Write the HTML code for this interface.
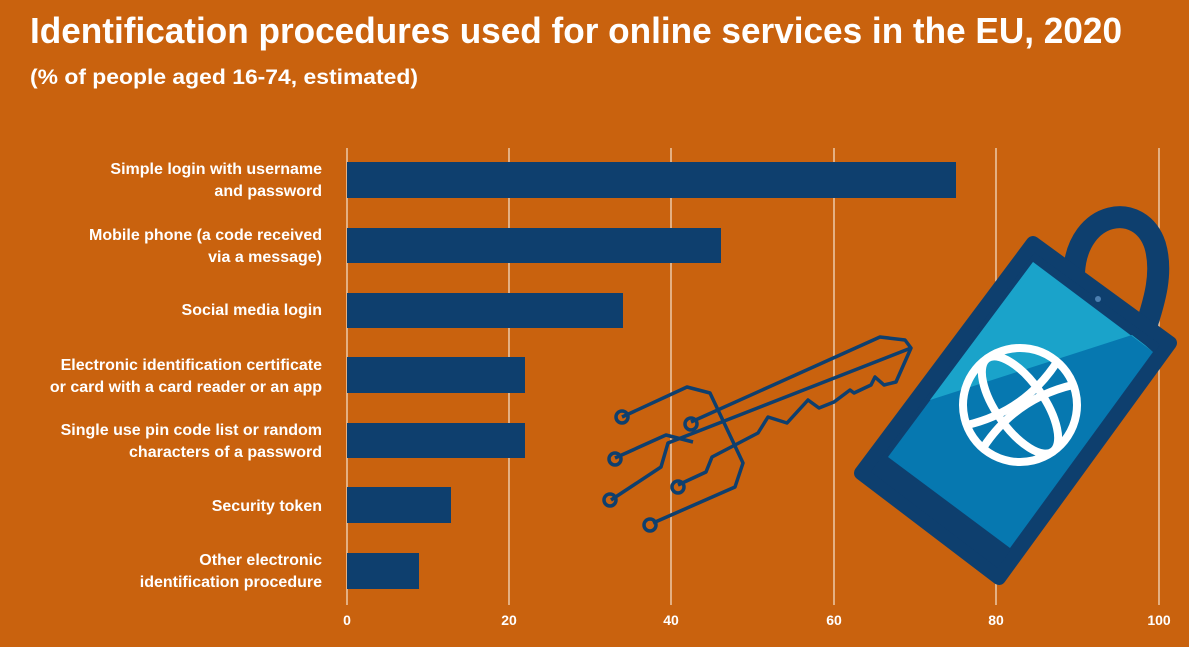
<!DOCTYPE html>
<html><head><meta charset="utf-8"><style>
html,body{margin:0;padding:0;background:#C9620E;}
svg{display:block;font-family:"Liberation Sans",sans-serif;font-weight:bold;}
</style></head><body>
<svg width="1189" height="647" viewBox="0 0 1189 647" xmlns="http://www.w3.org/2000/svg">
<rect width="1189" height="647" fill="#C9620E"/>
<text x="30" y="43" font-size="36" fill="#fff" textLength="1092" lengthAdjust="spacingAndGlyphs">Identification procedures used for online services in the EU, 2020</text>
<text x="30" y="84" font-size="21" fill="#fff" textLength="388" lengthAdjust="spacingAndGlyphs">(% of people aged 16-74, estimated)</text>
<g stroke="#F3D9C0" stroke-width="1.3">
<line x1="347" y1="148" x2="347" y2="605"/><line x1="509" y1="148" x2="509" y2="605"/>
<line x1="671" y1="148" x2="671" y2="605"/><line x1="834" y1="148" x2="834" y2="605"/>
<line x1="996" y1="148" x2="996" y2="605"/><line x1="1159" y1="148" x2="1159" y2="605"/>
</g>
<g fill="#0E3F6E">
<rect x="347" y="162" width="609" height="36"/>
<rect x="347" y="228" width="374" height="35"/>
<rect x="347" y="293" width="276" height="35"/>
<rect x="347" y="357" width="178" height="36"/>
<rect x="347" y="423" width="178" height="35"/>
<rect x="347" y="487" width="104" height="36"/>
<rect x="347" y="553" width="72" height="36"/>
</g>
<g fill="#fff" font-size="16" text-anchor="end">
<text x="322" y="174">Simple login with username</text><text x="322" y="196">and password</text>
<text x="322" y="240">Mobile phone (a code received</text><text x="322" y="262">via a message)</text>
<text x="322" y="315">Social media login</text>
<text x="322" y="370">Electronic identification certificate</text><text x="322" y="392">or card with a card reader or an app</text>
<text x="322" y="435">Single use pin code list or random</text><text x="322" y="457">characters of a password</text>
<text x="322" y="511">Security token</text>
<text x="322" y="565">Other electronic</text><text x="322" y="587">identification procedure</text>
</g>
<g fill="#fff" font-size="14" text-anchor="middle">
<text x="347" y="625">0</text><text x="509" y="625">20</text><text x="671" y="625">40</text>
<text x="834" y="625">60</text><text x="996" y="625">80</text><text x="1159" y="625">100</text>
</g>
<!-- key -->
<g fill="none" stroke="#0E3F6E" stroke-width="3.5" stroke-linejoin="round">
<polyline points="691,422 880,337 905,340 911,348 896,382 884,385 875,377 871,385 854,393 850,390 834,402 819,408 808,400 787,423 768,417 758,433 712,457 706,472 678,485"/>
<polyline points="911,348 668,443 661,467 611,500"/>
<polyline points="622,417 687,387 710,393 743,463 735,487 653,523"/>
<polyline points="615,458 666,435 693,442"/>
<circle cx="622" cy="417" r="6"/><circle cx="691" cy="424" r="6"/>
<circle cx="615" cy="459" r="6"/><circle cx="678" cy="487" r="6"/>
<circle cx="610" cy="500" r="6"/><circle cx="650" cy="525" r="6"/>
</g>
<!-- lock -->
<path d="M1074,272 C1078,210 1140,200 1155,245 C1163,272 1155,300 1145,330" fill="none" stroke="#0E3F6E" stroke-width="22"/>
<polygon points="1033,243 1170,343 999,578 861,473" fill="#0E3F6E" stroke="#0E3F6E" stroke-width="14" stroke-linejoin="round"/>
<polygon points="1033,262 1153,352 1010,548 888,457" fill="#0678B0"/>
<polygon points="1033,262 1153,352 1145,345 1132,335 930,400" fill="#1AA3CA"/>
<circle cx="1098" cy="299" r="3" fill="#4c7fb0"/>
<g transform="translate(1020,405) rotate(-35)" fill="none" stroke="#fff" stroke-width="8">
<circle r="57"/>
<ellipse rx="24" ry="57"/>
<path d="M-55,-14 Q0,8 55,-14"/><path d="M-55,14 Q0,-8 55,14"/>
</g>
</svg>
</body></html>
